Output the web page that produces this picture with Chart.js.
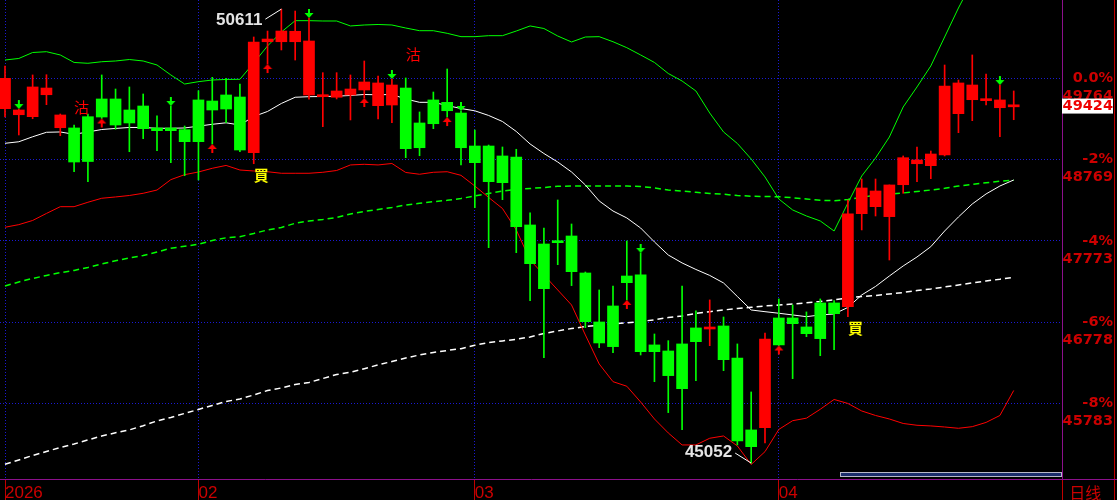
<!DOCTYPE html>
<html>
<head>
<meta charset="utf-8">
<script src="https://cdn.jsdelivr.net/npm/chart.js@4.4.0/dist/chart.umd.min.js"></script>
<style>
  html, body { margin: 0; padding: 0; background: #000; }
  #chart { display: block; background: #000; }
</style>
</head>
<body>
<canvas id="chart" width="1117" height="500"></canvas>
<script>
// K 线: 开 / 高 / 低 / 收
const opens = [49392, 49318, 49294, 49563, 49159, 49156, 49294, 49511, 49511, 49376,
  49425, 49156, 49156, 49135, 49499, 49486, 49560, 49535, 48853, 50212,
  50212, 50212, 49560, 49539, 49532, 49560, 49621, 49429, 49437, 49645,
  49217, 49499, 49470, 49339, 48935, 48935, 48813, 48800, 47968, 47735,
  47772, 47833, 47380, 46780, 46976, 47343, 47356, 46499, 46425, 46511,
  46707, 46694, 46731, 46339, 45458, 45486, 46829, 46829, 46719, 47013,
  47013, 46967, 48106, 48192, 48070, 48461, 48718, 48694, 48825, 49331,
  49502, 49490, 49404, 49415];
const highs = [49915, 49388, 49805, 49808, 49327, 49192, 49327, 49805, 49633, 49658,
  49572, 49303, 49425, 49180, 49612, 49776, 49764, 49694, 50270, 50343,
  50611, 50588, 50503, 49833, 49833, 49805, 49976, 49792, 49756, 49768,
  49352, 49596, 49878, 49364, 49131, 48947, 48923, 48895, 48118, 47931,
  48274, 47980, 47392, 47172, 47221, 47772, 47625, 46633, 46551, 47221,
  46915, 47050, 46841, 46511, 45923, 46645, 47062, 46988, 46903, 47062,
  47041, 48274, 48531, 48531, 48458, 48813, 48923, 48874, 49927, 49743,
  50050, 49817, 49682, 49609];
const lows = [49290, 49070, 49269, 49441, 49061, 48620, 48498, 49272, 49140, 48865,
  49025, 48878, 48731, 48572, 48519, 48960, 49220, 48865, 48718, 49939,
  50111, 49988, 49507, 49172, 49511, 49254, 49523, 49266, 49220, 48792,
  48816, 49147, 49290, 48703, 48180, 47690, 48278, 47629, 47041, 46343,
  47482, 47225, 46710, 46465, 46404, 47050, 46376, 46049, 45670, 45461,
  46061, 46490, 46184, 45274, 45052, 45298, 46492, 46086, 46600, 46367,
  46441, 46845, 47907, 48078, 47539, 48356, 48498, 48535, 48813, 49098,
  49245, 49437, 49049, 49257];
const closes = [49764, 49376, 49658, 49645, 49315, 48739, 48745, 49290, 49192, 49217,
  49147, 49123, 49123, 48988, 48988, 49376, 49388, 48886, 50209, 50245,
  50343, 50340, 50221, 49560, 49609, 49633, 49719, 49707, 49682, 48902,
  48914, 49208, 49367, 48914, 48731, 48498, 48486, 47947, 47494, 47188,
  47751, 47396, 46784, 46523, 46478, 47261, 46416, 46416, 46123, 45963,
  46539, 46710, 46318, 45323, 45253, 46572, 46499, 46759, 46637, 46576,
  46882, 48103, 48421, 48384, 48458, 48792, 48764, 48837, 49670, 49707,
  49682, 49507, 49499, 49424];

// 布林通道 上 / 中 / 下
const bollUpper = [49988, 50007, 50080, 50090, 50050, 49958, 49948, 49967, 49976, 49994,
  49976, 49927, 49805, 49694, 49723, 49743, 49750, 49752, 49952, 50160,
  50331, 50470, 50470, 50466, 50466, 50405, 50417, 50423, 50417, 50380,
  50347, 50347, 50315, 50274, 50274, 50286, 50286, 50343, 50405, 50374,
  50282, 50209, 50270, 50274, 50212, 50139, 50050, 49958, 49823, 49731,
  49609, 49339, 49107, 48966, 48776, 48556, 48286, 48152, 48078, 48017,
  47894, 48237, 48568, 48788, 49045, 49413, 49658, 49915, 50270, 50625,
  50950, 51146, 51255, 51097];
const bollMid = [48968, 48987, 49048, 49103, 49107, 49078, 49107, 49137, 49150, 49162,
  49162, 49152, 49152, 49156, 49178, 49201, 49219, 49192, 49296, 49358,
  49456, 49532, 49539, 49541, 49545, 49554, 49566, 49562, 49566, 49511,
  49470, 49470, 49431, 49394, 49366, 49309, 49235, 49113, 48960, 48843,
  48739, 48617, 48458, 48262, 48139, 48054, 47931, 47760, 47600, 47503,
  47423, 47350, 47258, 47092, 46927, 46906, 46887, 46866, 46845, 46866,
  46878, 46958, 47111, 47215, 47343, 47466, 47576, 47702, 47894, 48066,
  48225, 48348, 48445, 48519];
const bollLower = [47940, 47972, 48023, 48109, 48192, 48192, 48246, 48295, 48311, 48329,
  48356, 48396, 48523, 48584, 48617, 48662, 48697, 48641, 48629, 48620,
  48601, 48601, 48601, 48613, 48635, 48703, 48711, 48703, 48721, 48611,
  48589, 48613, 48620, 48576, 48445, 48305, 48170, 47907, 47539, 47356,
  47172, 46988, 46621, 46266, 46049, 45993, 45800, 45592, 45421, 45274,
  45274, 45356, 45384, 45262, 45035, 45192, 45464, 45571, 45602, 45711,
  45831, 45782, 45690, 45635, 45592, 45537, 45515, 45507, 45494, 45478,
  45498, 45550, 45635, 45941];

// 均线 (虚线)
const maGreen = [47221, 47270, 47313, 47350, 47384, 47411, 47448, 47490, 47530, 47564,
  47594, 47637, 47683, 47707, 47732, 47778, 47811, 47825, 47864, 47907,
  47937, 47989, 48017, 48035, 48060, 48103, 48133, 48158, 48182, 48213,
  48234, 48253, 48270, 48292, 48323, 48354, 48384, 48403, 48415, 48427,
  48442, 48445, 48445, 48445, 48445, 48445, 48439, 48421, 48396, 48384,
  48368, 48354, 48344, 48329, 48320, 48317, 48314, 48301, 48286, 48270,
  48265, 48280, 48307, 48335, 48347, 48360, 48378, 48396, 48417, 48445,
  48466, 48485, 48503, 48515];
const maWhite = [45038, 45090, 45145, 45194, 45243, 45286, 45335, 45384, 45423, 45458,
  45510, 45568, 45611, 45660, 45709, 45758, 45807, 45837, 45886, 45941,
  45972, 46015, 46039, 46088, 46137, 46164, 46208, 46254, 46296, 46339,
  46376, 46407, 46431, 46453, 46495, 46529, 46548, 46568, 46596, 46639,
  46670, 46700, 46723, 46743, 46756, 46770, 46786, 46807, 46835, 46854,
  46884, 46906, 46927, 46945, 46960, 46976, 46988, 47000, 47015, 47031,
  47052, 47074, 47092, 47105, 47123, 47141, 47166, 47184, 47209, 47233,
  47258, 47282, 47303, 47328];

// 刻度
const monthStarts = [0, 14, 34, 56];
const monthLabels = ['2026', '02', '03', '04'];
const periodLabel = '日线';
const priceTicks = [49764, 48769, 47773, 46778, 45783];
const pctLabels = ['0.0%', '-2%', '-4%', '-6%', '-8%'];
const lastPrice = 49424;

// 信号
const sellArrows = [1, 12, 22, 28, 33, 46, 72];
const buyArrows = [7, 15, 19, 26, 32, 45, 56];
const sellSigns = [[5, 49407], [29, 50058]];   // 沽
const buySigns = [[18, 48574], [61, 46698]];   // 買

const UP = '#ff0000';
const DOWN = '#00ff00';
const GRID = '#1a1ad2';
const AXIS = '#8c108c';
const LABEL = '#cc0000';
const X_MIN = -0.362;
const X_MAX = 76.494;

const candleColor = (c) => closes[c.dataIndex] >= opens[c.dataIndex] ? UP : DOWN;

function makeArrow(color, down) {
  const c = document.createElement('canvas');
  c.width = 10;
  c.height = 20;
  const g = c.getContext('2d');
  g.fillStyle = color;
  g.beginPath();
  if (down) {
    g.fillRect(4, 1, 2, 5);
    g.moveTo(0.5, 5); g.lineTo(9.5, 5); g.lineTo(5, 10);
  } else {
    g.fillRect(4, 14, 2, 5);
    g.moveTo(5, 10); g.lineTo(9.5, 15); g.lineTo(0.5, 15);
  }
  g.closePath();
  g.fill();
  return c;
}

const line = (arr, color, dashed) => ({
  type: 'line',
  data: arr.map((v, i) => ({ x: i, y: v })),
  borderColor: color,
  borderWidth: dashed ? 1.5 : 1,
  borderDash: dashed ? [6, 4] : [],
  pointRadius: 0,
  tension: 0,
  order: 3
});

const marks = {
  id: 'marks',
  afterDatasetsDraw(chart) {
    const { ctx, scales: { x, y } } = chart;
    ctx.save();
    ctx.textAlign = 'left';
    ctx.textBaseline = 'middle';
    ctx.font = '15px "Noto Sans CJK TC"';
    ctx.fillStyle = '#ff0000';
    sellSigns.forEach(([i, v]) => ctx.fillText('沽', x.getPixelForValue(i), y.getPixelForValue(v)));
    ctx.font = 'bold 15px "Noto Sans CJK TC"';
    ctx.fillStyle = '#ffff00';
    buySigns.forEach(([i, v]) => ctx.fillText('買', x.getPixelForValue(i), y.getPixelForValue(v)));

    // 最高 / 最低
    const hi = highs.indexOf(Math.max(...highs));
    const lo = lows.indexOf(Math.min(...lows));
    ctx.strokeStyle = '#ffffff';
    ctx.lineWidth = 1;
    ctx.font = 'bold 17px "Liberation Sans"';
    ctx.fillStyle = '#e4e4e4';
    ctx.textAlign = 'right';
    [[hi, highs[hi], 1], [lo, lows[lo], -1]].forEach(([i, v, d]) => {
      const px = x.getPixelForValue(i);
      const py = y.getPixelForValue(v);
      ctx.beginPath();
      ctx.moveTo(px, py);
      ctx.lineTo(px - 16, py + 10 * d);
      ctx.stroke();
      ctx.fillText(String(v), px - 19, py + 11 * d);
    });
    ctx.restore();
  },
  afterDraw(chart) {
    const { ctx, chartArea: a } = chart;
    ctx.save();
    ctx.lineWidth = 1;
    ctx.strokeStyle = '#c00000';
    ctx.beginPath();
    ctx.moveTo(chart.width - 2.5, 0);
    ctx.lineTo(chart.width - 2.5, chart.height);
    ctx.stroke();
    ctx.strokeStyle = AXIS;
    ctx.beginPath();
    ctx.moveTo(a.right, a.bottom + 0.5);
    ctx.lineTo(chart.width, a.bottom + 0.5);
    ctx.stroke();
    // 滚动条
    ctx.fillStyle = '#1b2d6b';
    ctx.fillRect(a.right - 221, a.bottom - 6.5, 220, 4);
    ctx.strokeStyle = '#b8b8c8';
    ctx.strokeRect(a.right - 221.5, a.bottom - 6.5, 221, 4);
    ctx.restore();
  }
};

new Chart(document.getElementById('chart'), {
  type: 'bar',
  data: {
    datasets: [
      line(bollUpper, '#00ff00', false),
      line(bollMid, '#ffffff', false),
      line(bollLower, '#ff0000', false),
      line(maGreen, '#00ff00', true),
      line(maWhite, '#ffffff', true),
      {
        type: 'bar',
        data: closes.map((c, i) => ({ x: i, y: [lows[i], highs[i]] })),
        backgroundColor: candleColor,
        barThickness: 1,
        grouped: false,
        order: 2
      },
      {
        type: 'bar',
        data: closes.map((c, i) => ({ x: i, y: [opens[i], c] })),
        backgroundColor: candleColor,
        barThickness: 11,
        minBarLength: 2,
        grouped: false,
        order: 1
      },
      {
        type: 'line',
        showLine: false,
        data: sellArrows.map(i => ({ x: i, y: highs[i] })),
        pointStyle: makeArrow('#00ff00', true),
        pointRadius: 5,
        order: 0
      },
      {
        type: 'line',
        showLine: false,
        data: buyArrows.map(i => ({ x: i, y: lows[i] })),
        pointStyle: makeArrow('#ff0000', false),
        pointRadius: 5,
        order: 0
      }
    ]
  },
  options: {
    responsive: false,
    devicePixelRatio: 1,
    animation: false,
    events: [],
    layout: { autoPadding: false, padding: { left: 0, top: 0, bottom: 0, right: 4 } },
    plugins: { legend: { display: false }, tooltip: { enabled: false } },
    scales: {
      x: {
        type: 'linear',
        position: 'bottom',
        min: X_MIN,
        max: X_MAX,
        offset: false,
        afterBuildTicks: s => {
          s.ticks = monthStarts.map(v => ({ value: v })).concat([{ value: X_MAX }]);
        },
        afterFit: s => {
          s.height = 21;
          s.paddingLeft = 0;
          s.paddingRight = 0;
        },
        grid: {
          offset: false,
          color: c => c.tick && c.tick.value === X_MAX ? 'rgba(0,0,0,0)' : GRID,
          tickColor: '#c00000',
          tickLength: 21,
          tickBorderDash: []
        },
        border: { display: true, color: AXIS, width: 1, dash: [1, 2] },
        ticks: {
          align: 'start',
          autoSkip: false,
          maxRotation: 0,
          minRotation: 0,
          padding: -15.5,
          color: LABEL,
          font: c => c.tick && c.tick.value === X_MAX
            ? { family: '"Noto Sans CJK SC"', size: 16, lineHeight: 1 }
            : { family: '"Liberation Sans"', size: 17, lineHeight: 1 },
          callback: v => {
            const k = monthStarts.indexOf(v);
            return k >= 0 ? monthLabels[k] : '  ' + periodLabel;
          }
        }
      },
      y: {
        type: 'linear',
        position: 'right',
        min: 44857,
        max: 50723,
        afterBuildTicks: s => {
          s.ticks = priceTicks.map(v => ({ value: v })).concat([{ value: lastPrice }]);
        },
        afterFit: s => {
          s.width = 51;
          s.paddingTop = 0;
          s.paddingBottom = 0;
        },
        grid: {
          color: c => c.tick && c.tick.value === lastPrice ? 'rgba(0,0,0,0)' : GRID,
          drawTicks: false
        },
        border: { display: true, color: AXIS, width: 1, dash: [1, 2] },
        ticks: {
          autoSkip: false,
          crossAlign: 'far',
          padding: 0.5,
          color: c => c.tick && c.tick.value === lastPrice ? '#ee0000' : LABEL,
          font: c => c.tick && c.tick.value === lastPrice
            ? { family: '"DejaVu Sans"', size: 14.5, weight: 'bold', lineHeight: '13px' }
            : { family: '"DejaVu Sans"', size: 14.5, weight: 'bold', lineHeight: '18px' },
          showLabelBackdrop: c => !!(c.tick && c.tick.value === lastPrice),
          backdropColor: '#ffffff',
          backdropPadding: { left: 1, right: 1, top: 1, bottom: 1 },
          callback: v => {
            const k = priceTicks.indexOf(v);
            return k >= 0 ? ['', pctLabels[k], String(v)] : String(v);
          }
        }
      }
    }
  },
  plugins: [marks]
});
</script>
</body>
</html>
